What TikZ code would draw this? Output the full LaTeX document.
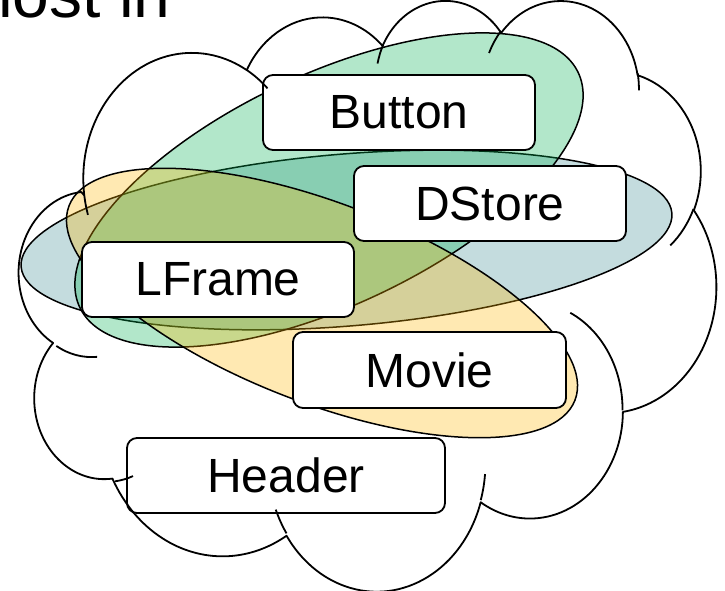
\documentclass[tikz,border=0pt]{standalone}
\usepackage{fontspec}
\setmainfont{Liberation Sans}
\usetikzlibrary{shapes.geometric}
\definecolor{cblue}{RGB}{58,138,145}
\definecolor{cgreen}{RGB}{0,176,80}
\definecolor{cyel}{RGB}{255,182,0}
\begin{document}
\begin{tikzpicture}[x=1pt,y=-1pt,
  declare function={cvp(\w,\h,\a)=atan2(\w*sin(\a),\h*cos(\a));
    cdl(\w,\h,\a,\s)=mod(cvp(\w,\h,\a+\s)-cvp(\w,\h,\a)+720,360)-360*(\s<0);},
  blob/.style={ellipse, draw=black, line width=1.5pt, fill opacity=0.3, inner sep=0pt, outer sep=0pt},
  box/.style={draw=black, line width=1.8pt, fill=white, rounded corners=10pt, inner sep=0pt,
    minimum height=75pt, font=\fontsize{48}{58}\selectfont},
  cloudline/.style={draw=black, line width=1.8pt, line join=round}
]
\useasboundingbox (0,0) rectangle (725,591);

% ellipses
\node[blob, fill=cblue, minimum width=653pt, minimum height=172pt, rotate=4.72] (eblue) at (346.5,240) {};
\node[blob, fill=cgreen, minimum width=551pt, minimum height=231pt, rotate=25.2] (egreen) at (329,190) {};
\node[blob, fill=cyel, minimum width=542pt, minimum height=200pt, rotate=-21] (eyel) at (322,303) {};

% boxes
\node[box, minimum width=272pt] (button) at (399,112.5) {Button};
\node[box, minimum width=272pt] (dstore) at (490,203.5) {DStore};
\node[box, minimum width=272pt] (lframe) at (218,279.5) {LFrame};
\node[box, minimum width=273pt, minimum height=76pt] (movie) at (429.5,370) {Movie};
\node[box, minimum width=318pt] (header) at (286,475.5) {Header};

% cloud
\begin{scope}[shift={(21.6,-1)}, x=1.6076pt, y=-1.3670pt]
\draw[cloudline] (39.00,143.70)
  arc[x radius=67.53, y radius=91.90, start angle={cvp(67.53,91.90,-190.4875)}, delta angle={cdl(67.53,91.90,-190.4875,123.7805)}]
  arc[x radius=53.33, y radius=72.67, start angle={cvp(53.33,72.67,-144.1024)}, delta angle={cdl(53.33,72.67,-144.1024,89.9452)}]
  arc[x radius=43.65, y radius=59.45, start angle={cvp(43.65,59.45,-145.8079)}, delta angle={cdl(43.65,59.45,-145.8079,99.7230)}]
  arc[x radius=48.57, y radius=65.95, start angle={cvp(48.57,65.95,-130.9861)}, delta angle={cdl(48.57,65.95,-130.9861,117.2417)}]
  arc[x radius=53.33, y radius=72.73, start angle={cvp(53.33,72.73,-78.7089)}, delta angle={cdl(53.33,72.73,-78.7089,109.0269)}]
  arc[x radius=67.75, y radius=92.20, start angle={cvp(67.75,92.20,-46.2673)}, delta angle={cdl(67.75,92.20,-46.2673,130.2690)}]
  arc[x radius=57.85, y radius=78.67, start angle={cvp(57.85,78.67,0.6250)}, delta angle={cdl(57.85,78.67,0.6250,114.0333)}]
  arc[x radius=67.52, y radius=92.15, start angle={cvp(67.52,92.15,22.4516)}, delta angle={cdl(67.52,92.15,22.4516,115.1726)}]
  arc[x radius=77.20, y radius=105.43, start angle={cvp(77.20,105.43,66.2426)}, delta angle={cdl(77.20,105.43,66.2426,78.4338)}]
  arc[x radius=43.60, y radius=59.18, start angle={cvp(43.60,59.18,-274.9421)}, delta angle={cdl(43.60,59.18,-274.9421,146.7415)}]
  arc[x radius=43.45, y radius=59.45, start angle={cvp(43.45,59.45,-246.8285)}, delta angle={cdl(43.45,59.45,-246.8285,152.5189)}]
  -- cycle;
\draw[cloudline] (46.93,261.77) arc[x radius=43.45, y radius=59.45, start angle={cvp(43.45,59.45,86.742)}, delta angle={cdl(43.45,59.45,86.742,26.4295)}];
\draw[cloudline] (69.28,348.99) arc[x radius=43.60, y radius=59.18, start angle={cvp(43.60,59.18,73.6105)}, delta angle={cdl(43.60,59.18,73.6105,11.4475)}];
\draw[cloudline] (164.78,390.90) arc[x radius=67.52, y radius=92.15, start angle={cvp(67.52,92.15,137.6242)}, delta angle={cdl(67.52,92.15,137.6242,14.0811)}];
\draw[cloudline] (288.27,347.51) arc[x radius=67.52, y radius=92.15, start angle={cvp(67.52,92.15,6.4533)}, delta angle={cdl(67.52,92.15,6.4533,15.9984)}];
\draw[cloudline] (341.29,229.54) arc[x radius=57.85, y radius=78.67, start angle={cvp(57.85,78.67,-70.2924)}, delta angle={cdl(57.85,78.67,-70.2924,70.9174)}];
\draw[cloudline] (417.98,153.54) arc[x radius=53.33, y radius=72.73, start angle={cvp(53.33,72.73,30.3180)}, delta angle={cdl(53.33,72.73,30.3180,27.7515)}];
\draw[cloudline] (383.24,54.26) arc[x radius=48.57, y radius=65.95, start angle={cvp(48.57,65.95,-13.7443)}, delta angle={cdl(48.57,65.95,-13.7443,14.8589)}];
\draw[cloudline] (290.78,39.52) arc[x radius=48.57, y radius=65.95, start angle={cvp(48.57,65.95,-149.1815)}, delta angle={cdl(48.57,65.95,-149.1815,18.1954)}];
\draw[cloudline] (221.41,47.20) arc[x radius=43.65, y radius=59.45, start angle={cvp(43.65,59.45,-163.4943)}, delta angle={cdl(43.65,59.45,-163.4943,17.6864)}];
\draw[cloudline] (140.00,51.92) arc[x radius=67.53, y radius=91.90, start angle={cvp(67.53,91.90,-66.7070)}, delta angle={cdl(67.53,91.90,-66.7070,12.3194)}];
\draw[cloudline] (41.27,157.89) arc[x radius=67.53, y radius=91.90, start angle={cvp(67.53,91.90,157.6544)}, delta angle={cdl(67.53,91.90,157.6544,11.8501)}];
\end{scope}

% title
\node[anchor=base west, inner sep=0pt, font=\fontsize{66}{79}\selectfont] (title) at (-2,17.5) {lost in};
\end{tikzpicture}
\end{document}
